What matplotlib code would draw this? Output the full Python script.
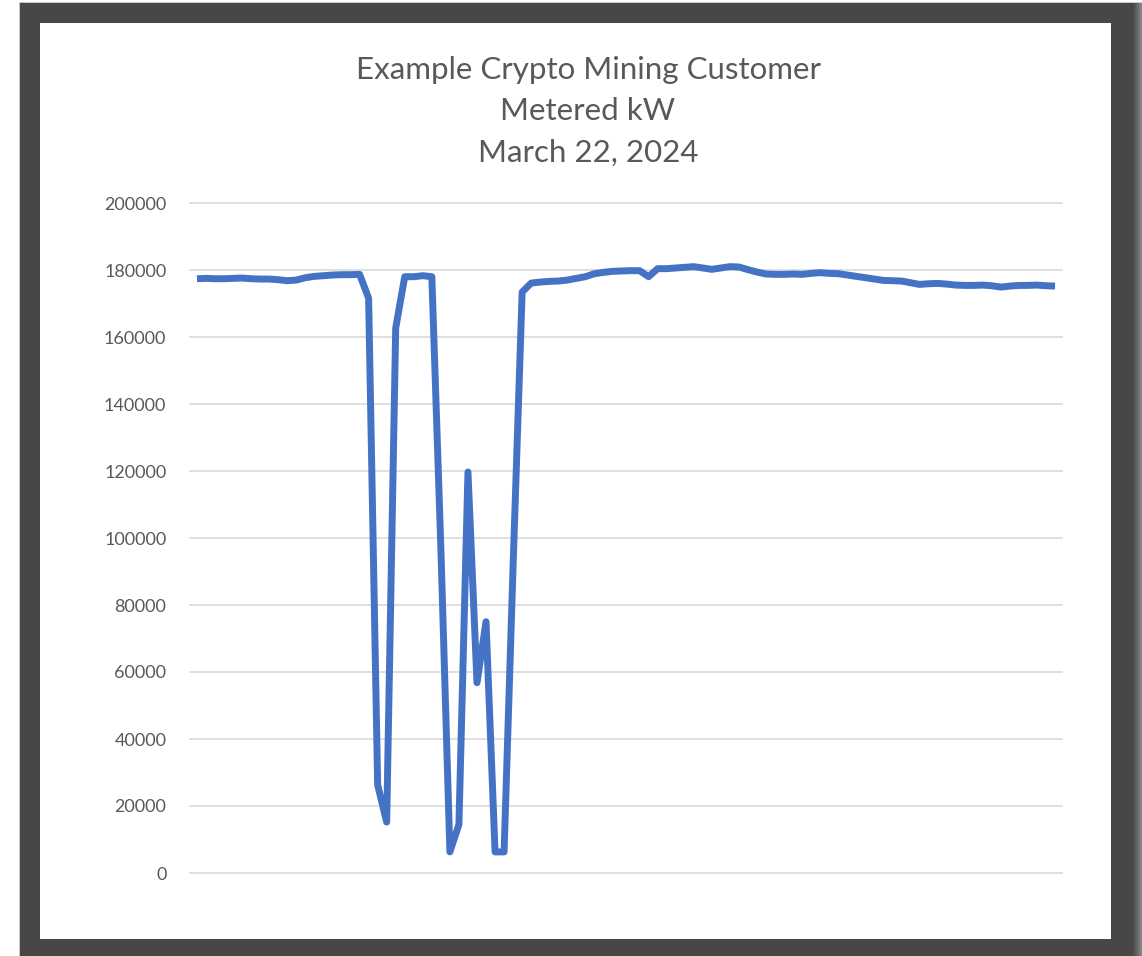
import matplotlib
matplotlib.use("Agg")
import matplotlib.pyplot as plt
from matplotlib.patches import Rectangle

W, H = 1142, 956

# metered load, one reading per 15 minutes (96 slots)
kw = [
    177400, 177500, 177400, 177400, 177500, 177600, 177400, 177300, 177300, 177100,
    176800, 177000, 177700, 178100, 178300, 178500, 178600, 178600, 178700, 171600,
    26300, 15200, 162700, 178000, 178000, 178300, 178000, 97000, 6300, 14500,
    119700, 56800, 75000, 6300, 6300, 92000, 173400, 176100, 176400, 176600,
    176700, 177000, 177500, 178000, 178900, 179300, 179600, 179700, 179800, 179800,
    178000, 180400, 180400, 180600, 180800, 181000, 180600, 180200, 180600, 181000,
    180900, 180100, 179400, 178800, 178700, 178700, 178800, 178700, 179000, 179200,
    179000, 178900, 178500, 178100, 177700, 177300, 176900, 176800, 176700, 176200,
    175700, 175900, 176000, 175800, 175500, 175400, 175400, 175500, 175300, 174900,
    175200, 175400, 175400, 175500, 175300, 175200,
]
slots = list(range(len(kw)))

y_ticks = list(range(0, 200001, 20000))
y_labels = [str(v) for v in y_ticks]

title_lines = ["Example Crypto Mining Customer", "Metered kW", "March 22, 2024"]

fig = plt.figure(figsize=(W / 100, H / 100), dpi=100)

# dark picture frame around the white chart area (pixel coords)
bg = fig.add_axes([0, 0, 1, 1])
bg.set_xlim(0, W)
bg.set_ylim(H, 0)
bg.axis("off")
bg.add_patch(Rectangle((18.5, 1.5), W, H, color="#c8c8c8", lw=0))
bg.add_patch(Rectangle((20, 3), W, H, color="#474747", lw=0))
# soft edge on the right side of the frame
shades = ["#4c4c4c", "#525252", "#595959", "#606060", "#686868", "#707070", "#787878", "#808080", "#888888"]
for i, c in enumerate(shades):
    bg.add_patch(Rectangle((1133 + i, 3), 1, H, color=c, lw=0))
bg.add_patch(Rectangle((40, 23), 1071, 916, color="white", lw=0))

ax = fig.add_axes([190 / W, 1 - 873 / H, 872 / W, 670 / H])
ax.set_facecolor("none")
ax.plot(slots, kw, color="#4472C4", lw=5,
        solid_joinstyle="round", solid_capstyle="butt", zorder=3)

ax.set_xlim(-0.775, 95.77)
ax.set_ylim(0, 200000)
ax.set_yticks(y_ticks)
ax.set_yticklabels(y_labels)
ax.set_xticks([])
ax.grid(axis="y", color="#d9d9d9", lw=1.2, clip_on=False)
ax.set_axisbelow(True)
ax.tick_params(axis="y", length=0, pad=17, labelsize=13, labelcolor="#595959")
for lbl in ax.get_yticklabels():
    lbl.set_family("Lato")
for s in ax.spines.values():
    s.set_visible(False)

# three-line title
for text, base in zip(title_lines, [79, 120, 162]):
    fig.text(588 / W, 1 - base / H, text, ha="center", va="baseline",
             fontsize=22.5, color="#595959", family="Lato")

fig.savefig("out.png", dpi=100)
